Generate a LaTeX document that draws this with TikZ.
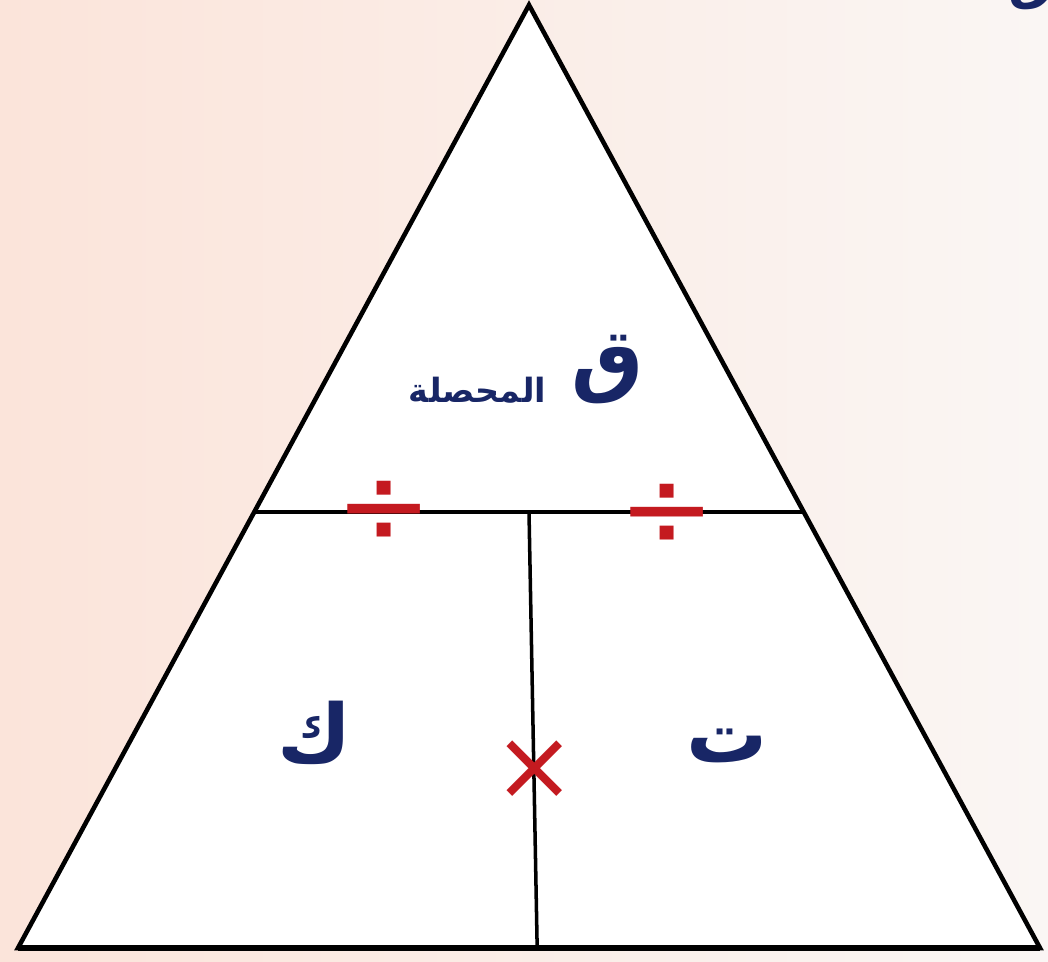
\documentclass[tikz,border=0pt]{standalone}
\usepackage{fontspec}
\newfontfamily\arabicfont[Script=Arabic]{DejaVu Sans}
\newfontfamily\opfont{DejaVu Sans}
\TeXXeTstate=1
\usetikzlibrary{positioning,calc}

\definecolor{navy}{RGB}{24,38,102}
\definecolor{opred}{RGB}{196,26,32}
\definecolor{bgpink}{RGB}{251,228,218}
\definecolor{bgcream}{RGB}{250,240,226}
\definecolor{bgwhite}{RGB}{250,246,244}

\begin{document}
\begin{tikzpicture}[x=0.02cm, y=-0.02cm,
      every node/.style={inner sep=0pt},
      edge/.style={draw=black, line width=2.6pt, line join=miter},
      split/.style={draw=black, line width=2pt},
      letter/.style={text=navy, font=\arabicfont\bfseries\fontsize{46}{50}\selectfont},
      word/.style={text=navy, font=\arabicfont\bfseries\fontsize{19}{22}\selectfont},
      op/.style={text=opred, font=\opfont\fontsize{66}{70}\selectfont},
  ]
    %% --- page and background ---
    \useasboundingbox (0,0) rectangle (1048,962);
    \clip (0,0) rectangle (1048,962);
    \shade[left color=bgpink, middle color=bgcream, right color=bgwhite]
      (0,0) rectangle (1048,962);
    \node[word, font=\arabicfont\bfseries\fontsize{30}{32}\selectfont,
          anchor=base east] (frag) at (1056,-1) {\beginR ق المحصلة\endR};

    %% --- triangle and its dividing lines ---
    \coordinate (apex)  at (529,5);
    \coordinate (baseL) at (18,948);
    \coordinate (baseR) at (1040,948);
    \coordinate (midL)  at ($(apex)!0.5377!(baseL)$);
    \coordinate (midR)  at ($(apex)!0.5377!(baseR)$);
    \coordinate (midT)  at ($(midL)!0.5!(midR)$);
    \coordinate (midB)  at ($(baseL)!0.508!(baseR)$);

    \draw[edge, fill=white] (apex) -- (baseR) -- (baseL) -- cycle;
    \draw[edge, line width=3.6pt] (baseL) -- (baseR);
    \draw[split] (midL) -- (midR);
    \draw[split] (midT) -- (midB);

    %% --- quantities ---
    \node[letter] (q) at (608,370) {\beginR ق\endR};
    \node[word, left=5mm of q.base west, anchor=base east, yshift=-9pt] (qlabel)
      {\beginR المحصلة\endR};
    \node[letter] (k) at (315,733) {\beginR ك\endR};
    \node[letter] (t) at (727,746) {\beginR ت\endR};

    %% --- operators ---
    \node[op] (divL) at (384,513) {÷};
    \node[op] (divR) at (667,516) {÷};
    \node[op, font=\opfont\fontsize{56}{60}\selectfont] (times) at (535,770) {×};
  \end{tikzpicture}
\end{document}
